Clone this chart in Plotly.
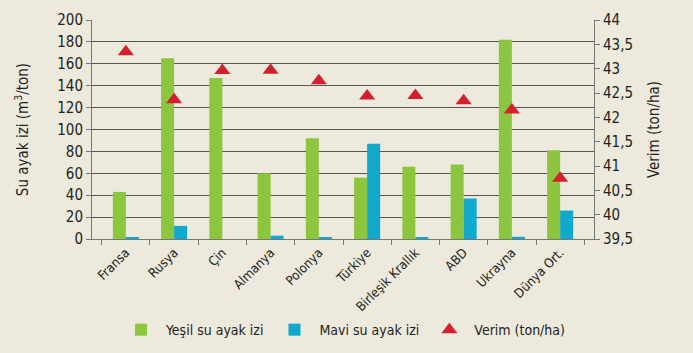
import plotly.graph_objects as go

categories = ["Fransa", "Rusya", "Çin", "Almanya", "Polonya", "Türkiye",
              "Birleşik Krallık", "ABD", "Ukrayna", "Dünya Ort."]
green_values = [43, 165, 147, 60, 92, 56, 66, 68, 182, 81]
blue_values = [1, 12, 0, 3, 1, 87, 1, 37, 2, 26]
yield_values = [43.35, 42.36, 42.96, 42.97, 42.75, 42.44, 42.45, 42.34, 42.15, 40.75]

left_ticks = list(range(0, 201, 20))
right_ticks = [39.5, 40, 40.5, 41, 41.5, 42, 42.5, 43, 43.5, 44]
right_ticktext = [("%g" % v).replace(".", ",") for v in right_ticks]

FONT = "DejaVu Sans Condensed, Roboto, sans-serif"
BG = "#EDE9DD"
TXT = "#231F20"

fig = go.Figure()
fig.add_trace(go.Bar(x=categories, y=green_values, name="Yeşil su ayak izi",
                     marker=dict(color="#8CC63F", line=dict(width=0))))
fig.add_trace(go.Bar(x=categories, y=blue_values, name="Mavi su ayak izi",
                     marker=dict(color="#10A9CC", line=dict(width=0))))
fig.add_trace(go.Scatter(x=categories, y=yield_values, name="Verim (ton/ha)", yaxis="y2",
                         mode="markers",
                         marker=dict(symbol="triangle-up", size=14, color="#D2202E")))

fig.update_layout(
    width=693, height=353,
    paper_bgcolor=BG, plot_bgcolor=BG,
    margin=dict(l=92, r=99, t=20, b=114, autoexpand=False),
    barmode="group", bargap=0.46, bargroupgap=0,
    font=dict(family=FONT, color=TXT, size=14),
    xaxis=dict(showline=True, linecolor="#777", linewidth=1, automargin=False,
               ticks="outside", tickson="boundaries", ticklen=5, tickcolor="#777",
               tickangle=-45, tickfont=dict(size=13, family=FONT, color=TXT),
               showgrid=False),
    yaxis=dict(range=[0, 200], tickvals=left_ticks, showline=True, linecolor="#777",
               ticks="outside", ticklen=5, tickcolor="#777", automargin=False,
               showgrid=True, gridcolor="#555555", gridwidth=1.2, zeroline=False,
               tickfont=dict(size=15, family=FONT, color=TXT),
               title=dict(text="Su ayak izi (m<sup>3</sup>/ton)", font=dict(size=15, family=FONT), standoff=24)),
    yaxis2=dict(range=[39.5, 44], tickvals=right_ticks, ticktext=right_ticktext,
                overlaying="y", side="right", showline=True, linecolor="#777", automargin=False,
                ticks="outside", ticklen=5, tickcolor="#777", showgrid=False, zeroline=False,
                tickfont=dict(size=15, family=FONT, color=TXT),
                title=dict(text="Verim (ton/ha)", font=dict(size=15, family=FONT), standoff=16)),
    legend=dict(orientation="h", x=0.5, xanchor="center", yref="container", y=0.065, yanchor="middle",
                font=dict(size=14, family=FONT, color=TXT), itemwidth=40,
                traceorder="normal", bgcolor="rgba(0,0,0,0)"),
    showlegend=True,
)

fig.write_html("out.html")
